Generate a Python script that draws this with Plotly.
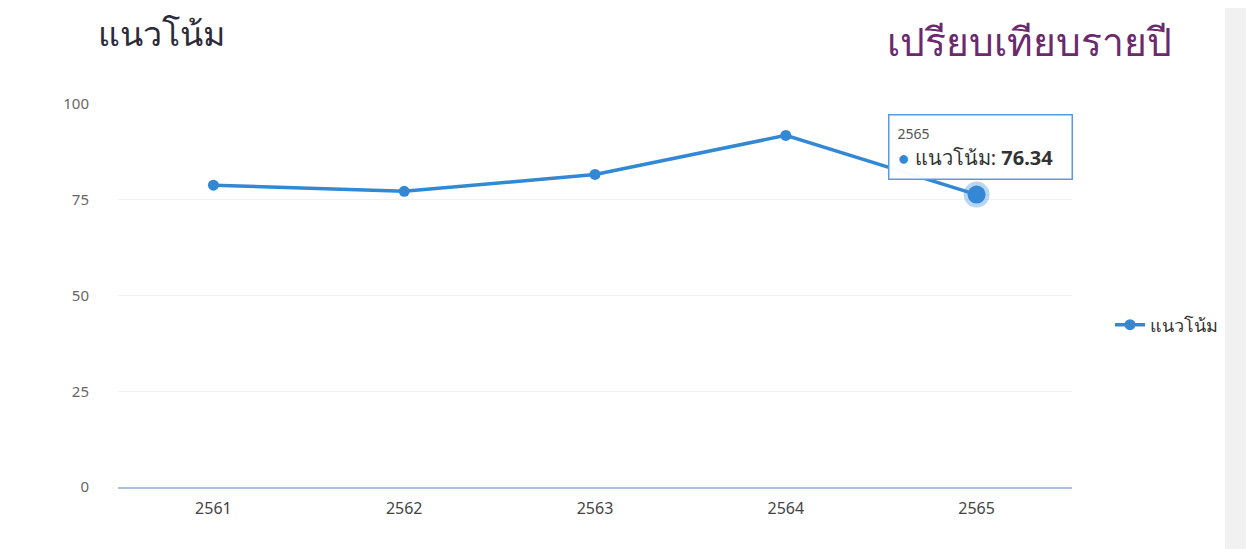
import plotly.graph_objects as go

years = ["2561", "2562", "2563", "2564", "2565"]
values = [78.8, 77.2, 81.6, 91.8, 76.34]
series_name = "แนวโน้ม"
y_ticks = [0, 25, 50, 75, 100]

LINE = "#3388d6"
OFF = 8  # default page body margin
W, H = 1254 - OFF, 549 - OFF
# plot area in screen pixels
L, R, T, B = 118, 1072, 104, 487


def px(x):
    return (x - L) / (R - L)


def py(y):
    return (B - y) / (B - T)


fig = go.Figure()
fig.add_trace(go.Scatter(
    x=years, y=values, mode="lines+markers", name=series_name,
    line=dict(color=LINE, width=3.5),
    marker=dict(color=LINE, size=11),
    hoverinfo="skip",
))
# highlighted (hover) point halo
fig.add_trace(go.Scatter(
    x=[years[-1]], y=[values[-1]], mode="markers", showlegend=False,
    marker=dict(color=LINE, size=18, opacity=1,
                line=dict(color="rgba(51,136,214,0.35)", width=8)),
    hoverinfo="skip",
))

pad = "\u00a0\u00a0"
fig.add_annotation(
    x=len(years) - 1, y=values[-1], xref="x", yref="y",
    text=("<span style='font-size:14px;color:#555'>" + years[-1] + "</span><br>"
          "<span style='color:" + LINE + "'>●</span> " + series_name + ": <b>"
          + f"{values[-1]:.2f}" + "</b>" + pad),
    showarrow=False, yshift=48, xshift=4, align="left",
    font=dict(family="Noto Sans, Open Sans, sans-serif", size=20, color="#333"),
    bgcolor="rgba(255,255,255,0.96)", bordercolor="#5a9be0", borderwidth=1.5, borderpad=8,
)

fig.add_annotation(
    x=px(96), y=py(33), xref="paper", yref="paper", xanchor="left", yanchor="middle",
    text=series_name, showarrow=False,
    font=dict(family="Noto Sans, Open Sans, sans-serif", size=34, color="#2b2b3a"),
)
fig.add_annotation(
    x=px(1174), y=py(40), xref="paper", yref="paper", xanchor="right", yanchor="middle",
    text="เปรียบเทียบรายปี", showarrow=False,
    font=dict(family="Noto Sans, Open Sans, sans-serif", size=39, color="#6b2a6e"),
)

fig.update_layout(
    width=W, height=H,
    margin=dict(l=L - OFF, r=W + OFF - R, t=T - OFF, b=H + OFF - B),
    paper_bgcolor="white", plot_bgcolor="white",
    font=dict(family="Noto Sans, Open Sans, sans-serif"),
    showlegend=True,
    legend=dict(x=px(1110), y=py(325), xanchor="left", yanchor="middle",
                font=dict(size=18, color="#333"), bgcolor="rgba(0,0,0,0)"),
    xaxis=dict(type="category", range=[-0.5, 4.5], showgrid=False,
               showline=True, linecolor="#aac0e0", linewidth=1.5,
               ticks="", tickfont=dict(size=16, color="#444"), ticklabelstandoff=6),
    yaxis=dict(range=[0, 100], tickvals=y_ticks, showgrid=True, gridcolor="#f0f0f0",
               zeroline=False, showline=False, ticks="",
               tickfont=dict(size=15, color="#666"), ticklabelstandoff=28),
)
fig.add_shape(type="rect", xref="paper", yref="paper",
              x0=px(1225), x1=px(1262), y0=py(560), y1=py(-10),
              fillcolor="#f1f1f1", line=dict(width=0), layer="below")

fig.write_html("out.html")
